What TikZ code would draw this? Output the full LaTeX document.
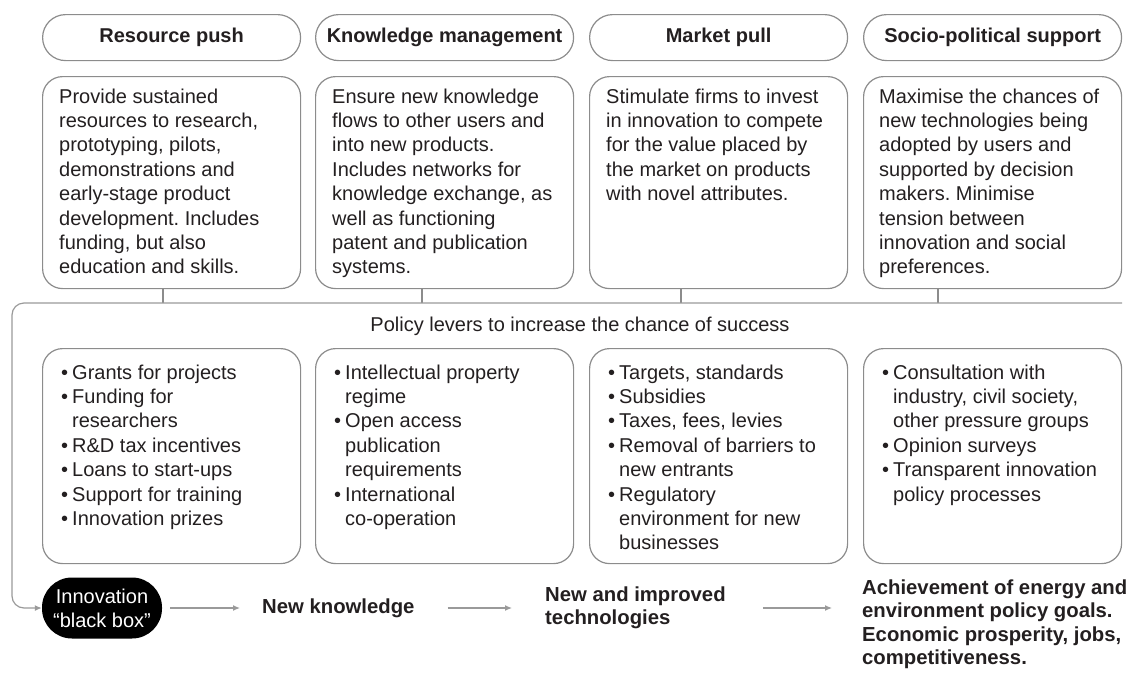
\documentclass[tikz,border=0pt]{standalone}
\usepackage{fontspec}
\setmainfont{Liberation Sans}
\usepackage{xcolor}
\usepackage{tikz}
\usetikzlibrary{positioning}
\usetikzlibrary{arrows.meta}
\usetikzlibrary{calc}

\definecolor{boxgray}{HTML}{8C8C8C}
\definecolor{arrgray}{HTML}{9A9A9A}
\definecolor{inkdark}{HTML}{231F20}

\frenchspacing
\newcommand{\bodytext}[1]{\parbox[t]{250pt}{\raggedright #1}}
\newcommand{\leverlist}[1]{\begin{tabular}[t]{@{}l@{\hspace{4pt}}l@{}}#1\end{tabular}}

\begin{document}
\begin{tikzpicture}[x=1pt,y=-1pt,text=inkdark,font=\fontsize{20}{24.4}\selectfont]
\tikzstyle{pill}=[draw=boxgray, line width=1.2pt, rounded corners=23pt, anchor=north west, minimum width=258pt, minimum height=46pt, inner sep=0pt, font=\fontsize{20}{24.4}\selectfont\bfseries]
\tikzstyle{descbox}=[draw=boxgray, line width=1.2pt, rounded corners=20pt, anchor=north west, minimum width=258pt, minimum height=212pt, inner sep=0pt]
\tikzstyle{leverbox}=[draw=boxgray, line width=1.2pt, rounded corners=20pt, anchor=north west, minimum width=258pt, minimum height=215pt, inner sep=0pt]
\tikzstyle{boxtext}=[anchor=base west, inner sep=0pt]
\tikzstyle{outtext}=[anchor=west, inner sep=0pt, align=left, font=\fontsize{20.3}{23.5}\selectfont\bfseries]
\tikzstyle{blackbox}=[fill=black, text=white, rounded corners=30pt, minimum width=120pt, minimum height=61pt, inner sep=0pt, align=center, font=\fontsize{20}{24}\selectfont]
\tikzstyle{line}=[draw=boxgray, line width=1.2pt]
\tikzstyle{arr}=[draw=arrgray, line width=1.2pt, -{Latex[length=7pt,width=6pt]}]

\useasboundingbox (0,0) rectangle (1128,673);

% headers
\node[pill] (head1) at (42,14) {Resource push};
\node[pill] (head2) at (315,14) {Knowledge management};
\node[pill] (head3) at (589,14) {Market pull};
\node[pill] (head4) at (863,14) {Socio-political support};

% what each function does
\node[descbox] (desc1) at (42,76) {};
\node[descbox] (desc2) at (315,76) {};
\node[descbox] (desc3) at (589,76) {};
\node[descbox] (desc4) at (863,76) {};
\node[boxtext] (desctext1) at ($(desc1.north west)+(17,27)$) {\bodytext{Provide sustained\\resources to research,\\prototyping, pilots,\\demonstrations and\\early-stage product\\development. Includes\\funding, but also\\education and skills.}};
\node[boxtext] (desctext2) at ($(desc2.north west)+(17,27)$) {\bodytext{Ensure new knowledge\\flows to other users and\\into new products.\\Includes networks for\\knowledge exchange, as\\well as functioning\\patent and publication\\systems.}};
\node[boxtext] (desctext3) at ($(desc3.north west)+(17,27)$) {\bodytext{Stimulate firms to invest\\in innovation to compete\\for the value placed by\\the market on products\\with novel attributes.}};
\node[boxtext] (desctext4) at ($(desc4.north west)+(16,27)$) {\bodytext{Maximise the chances of\\new technologies being\\adopted by users and\\supported by decision\\makers. Minimise\\tension between\\innovation and social\\preferences.}};

% policy frame
\coordinate (tap1) at (163,303);
\coordinate (tap2) at (422,303);
\coordinate (tap3) at (681,303);
\coordinate (tap4) at (938,303);
\draw[line] (desc1.south -| tap1) -- (tap1);
\draw[line] (desc2.south -| tap2) -- (tap2);
\draw[line] (desc3.south -| tap3) -- (tap3);
\draw[line] (desc4.south -| tap4) -- (tap4);
\node (levers) at (580,326) {Policy levers to increase the chance of success};

% policy levers
\node[leverbox] (lever1) at (42,348) {};
\node[leverbox] (lever2) at (315,348) {};
\node[leverbox] (lever3) at (589,348) {};
\node[leverbox] (lever4) at (863,348) {};
\node[boxtext] (levertext1) at ($(lever1.north west)+(19,31)$) {\leverlist{\textbullet & Grants for projects\\ \textbullet & Funding for\\ & researchers\\ \textbullet & R\&D tax incentives\\ \textbullet & Loans to start-ups\\ \textbullet & Support for training\\ \textbullet & Innovation prizes}};
\node[boxtext] (levertext2) at ($(lever2.north west)+(19,31)$) {\leverlist{\textbullet & Intellectual property\\ & regime\\ \textbullet & Open access\\ & publication\\ & requirements\\ \textbullet & International\\ & co-operation}};
\node[boxtext] (levertext3) at ($(lever3.north west)+(19,31)$) {\leverlist{\textbullet & Targets, standards\\ \textbullet & Subsidies\\ \textbullet & Taxes, fees, levies\\ \textbullet & Removal of barriers to\\ & new entrants\\ \textbullet & Regulatory\\ & environment for new\\ & businesses}};
\node[boxtext] (levertext4) at ($(lever4.north west)+(19,31)$) {\leverlist{\textbullet & Consultation with\\ & industry, civil society,\\ & other pressure groups\\ \textbullet & Opinion surveys\\ \textbullet & Transparent innovation\\ & policy processes}};

% outcomes
\node[blackbox] (bbox) at (102,608) {Innovation\\“black box”};
\node[outtext] (newknow) at (262,608) {New knowledge};
\node[outtext] (newtech) at (545,608) {New and improved\\technologies};
\node[outtext] (goals) at (862,624) {Achievement of energy and\\environment policy goals.\\Economic prosperity, jobs,\\competitiveness.};

\draw[arr, rounded corners=12pt] (1122,303) -| (12,608) -- (bbox.west);
\draw[arr, shorten <=8pt, shorten >=22pt] (bbox.east) -- (newknow.west);
\draw[arr, shorten <=33pt, shorten >=33pt] (newknow.east) -- (newknow.east -| newtech.west);
\draw[arr, shorten <=37pt, shorten >=30pt] (newtech.east |- newknow.east) -- (newknow.east -| goals.west);
\end{tikzpicture}
\end{document}
